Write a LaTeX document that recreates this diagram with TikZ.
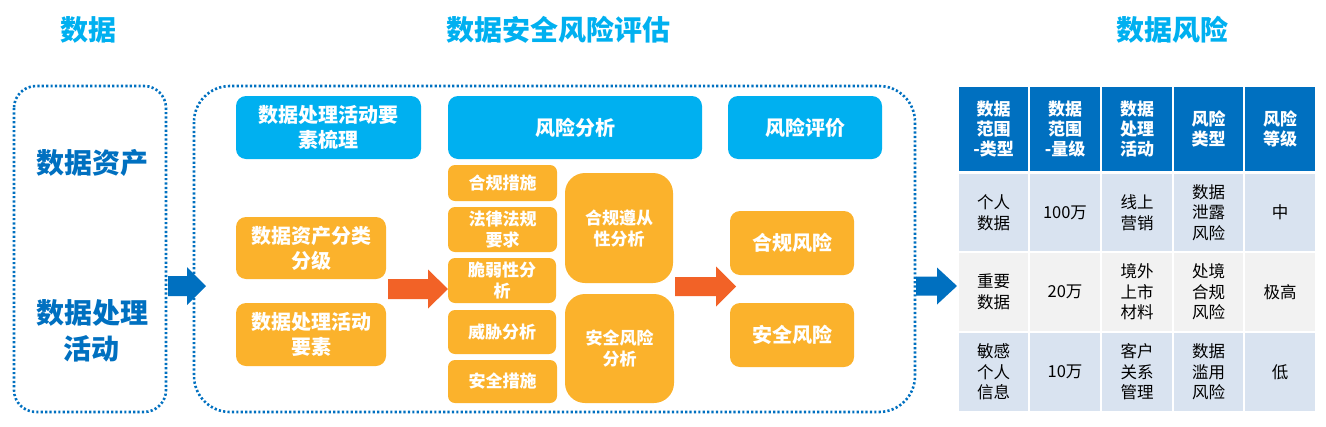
\documentclass[tikz,border=0pt]{standalone}
\usepackage{fontspec}
\setmainfont{Noto Sans CJK SC}
\definecolor{cyanbox}{HTML}{00B0F0}
\definecolor{orgbox}{HTML}{FBB22C}
\definecolor{arrorg}{HTML}{F26227}
\definecolor{dblue}{HTML}{0070C0}
\definecolor{rowa}{HTML}{D9E3F0}
\definecolor{rowb}{HTML}{F2F2F2}
\tikzset{
  title/.style={text=cyanbox,font=\fontsize{28}{32}\selectfont\bfseries,inner sep=0pt},
  lefttxt/.style={text=dblue,font=\fontsize{28}{36}\selectfont\bfseries,align=center,inner sep=0pt},
  dotbox/.style={draw=dblue,line width=2.6pt,dash pattern=on 2.2pt off 2.2pt},
  bbox/.style={fill=cyanbox,rounded corners=10pt,text=white,font=\fontsize{20}{25}\selectfont\bfseries,align=center},
  obox/.style={fill=orgbox,rounded corners=10pt,text=white,font=\fontsize{20}{25}\selectfont\bfseries,align=center},
  sbox/.style={fill=orgbox,rounded corners=7pt,text=white,font=\fontsize{17}{21}\selectfont\bfseries,align=center},
  lbox/.style={fill=orgbox,rounded corners=20pt,text=white,font=\fontsize{17}{21}\selectfont\bfseries,align=center},
  hcell/.style={fill=dblue,text=white,font=\fontsize{17}{20}\selectfont\bfseries,align=center,draw=white,line width=2pt},
  acell/.style={fill=rowa,text=black,font=\fontsize{16.5}{20.5}\selectfont,align=center,draw=white,line width=2pt},
  bcell/.style={fill=rowb,text=black,font=\fontsize{16.5}{20.5}\selectfont,align=center,draw=white,line width=2pt},
}
% block arrow: #1 colour, #2 start x, #3 head-base x, #4 tip x, #5 centre y, #6 shaft half, #7 head half
\newcommand{\blockarrow}[7]{%
  \fill[#1] (#2,#5-#6) -- (#3,#5-#6) -- (#3,#5-#7) -- (#4,#5) -- (#3,#5+#7) -- (#3,#5+#6) -- (#2,#5+#6) -- cycle;}
\begin{document}
\begin{tikzpicture}[x=1pt,y=-1pt]
\useasboundingbox (0,0) rectangle (1326,426);
% titles
\node[title] (t1) at (88,30) {数据};
\node[title] (t2) at (558,30) {数据安全风险评估};
\node[title] (t3) at (1172,30) {数据风险};
% dotted frames
\draw[dotbox,rounded corners=22pt] (14,86) rectangle (166,412);
\draw[dotbox,rounded corners=36pt] (194,86) rectangle (915,412);
\node[lefttxt] (la) at (92,163) {数据资产};
\node[lefttxt] (lb) at (92,331) {数据处理\\活动};
% blue boxes
\node[bbox,minimum width=185pt,minimum height=63pt] (b1) at (328.5,127.5) {数据处理活动要\\素梳理};
\node[bbox,minimum width=254pt,minimum height=63pt] (b2) at (575,127.5) {风险分析};
\node[bbox,minimum width=154pt,minimum height=63pt] (b3) at (805,127.5) {风险评价};
% orange boxes left
\node[obox,minimum width=150pt,minimum height=62pt] (o1) at (311,248) {数据资产分类\\分级};
\node[obox,minimum width=150pt,minimum height=63pt] (o2) at (311,334.5) {数据处理活动\\要素};
% small boxes
\node[sbox,minimum width=109pt,minimum height=36pt] (s1) at (502.5,183) {合规措施};
\node[sbox,minimum width=109pt,minimum height=45pt] (s2) at (502.5,229.5) {法律法规\\要求};
\node[sbox,minimum width=108pt,minimum height=45pt] (s3) at (502,280.5) {脆弱性分\\析};
\node[sbox,minimum width=108pt,minimum height=44pt] (s4) at (502,332) {威胁分析};
\node[sbox,minimum width=109pt,minimum height=43pt] (s5) at (502.5,381.5) {安全措施};
% large boxes
\node[lbox,minimum width=108pt,minimum height=110pt] (g1) at (619,228) {合规遵从\\性分析};
\node[lbox,minimum width=109pt,minimum height=109pt] (g2) at (619.5,348.5) {安全风险\\分析};
% right orange
\node[obox,minimum width=124pt,minimum height=64pt] (r1) at (792,243) {合规风险};
\node[obox,minimum width=124pt,minimum height=64pt] (r2) at (792,335) {安全风险};
% block arrows
\blockarrow{dblue}{168}{187}{206}{286}{10}{19}
\blockarrow{arrorg}{388}{428}{448}{289}{10}{19.5}
\blockarrow{arrorg}{675}{716}{736}{286.5}{9.5}{20}
\blockarrow{dblue}{916}{937}{957}{286}{9.5}{18.5}
% table
\node[hcell,minimum width=71pt,minimum height=86pt] (h1) at (993.5,129) {数据\\范围\\-类型};
\node[hcell,minimum width=72pt,minimum height=86pt] (h2) at (1065,129) {数据\\范围\\-量级};
\node[hcell,minimum width=72pt,minimum height=86pt] (h3) at (1137,129) {数据\\处理\\活动};
\node[hcell,minimum width=71pt,minimum height=86pt] (h4) at (1208.5,129) {风险\\类型};
\node[hcell,minimum width=72pt,minimum height=86pt] (h5) at (1280,129) {风险\\等级};
% row 1
\node[acell,minimum width=71pt,minimum height=79pt] (c11) at (993.5,212.5) {个人\\数据};
\node[acell,minimum width=72pt,minimum height=79pt] (c12) at (1065,212.5) {100万};
\node[acell,minimum width=72pt,minimum height=79pt] (c13) at (1137,212.5) {线上\\营销};
\node[acell,minimum width=71pt,minimum height=79pt] (c14) at (1208.5,212.5) {数据\\泄露\\风险};
\node[acell,minimum width=72pt,minimum height=79pt] (c15) at (1280,212.5) {中};
% row 2
\node[bcell,minimum width=71pt,minimum height=80pt] (c21) at (993.5,292) {重要\\数据};
\node[bcell,minimum width=72pt,minimum height=80pt] (c22) at (1065,292) {20万};
\node[bcell,minimum width=72pt,minimum height=80pt] (c23) at (1137,292) {境外\\上市\\材料};
\node[bcell,minimum width=71pt,minimum height=80pt] (c24) at (1208.5,292) {处境\\合规\\风险};
\node[bcell,minimum width=72pt,minimum height=80pt] (c25) at (1280,292) {极高};
% row 3
\node[acell,minimum width=71pt,minimum height=80pt] (c31) at (993.5,372) {敏感\\个人\\信息};
\node[acell,minimum width=72pt,minimum height=80pt] (c32) at (1065,372) {10万};
\node[acell,minimum width=72pt,minimum height=80pt] (c33) at (1137,372) {客户\\关系\\管理};
\node[acell,minimum width=71pt,minimum height=80pt] (c34) at (1208.5,372) {数据\\滥用\\风险};
\node[acell,minimum width=72pt,minimum height=80pt] (c35) at (1280,372) {低};
\end{tikzpicture}
\end{document}
